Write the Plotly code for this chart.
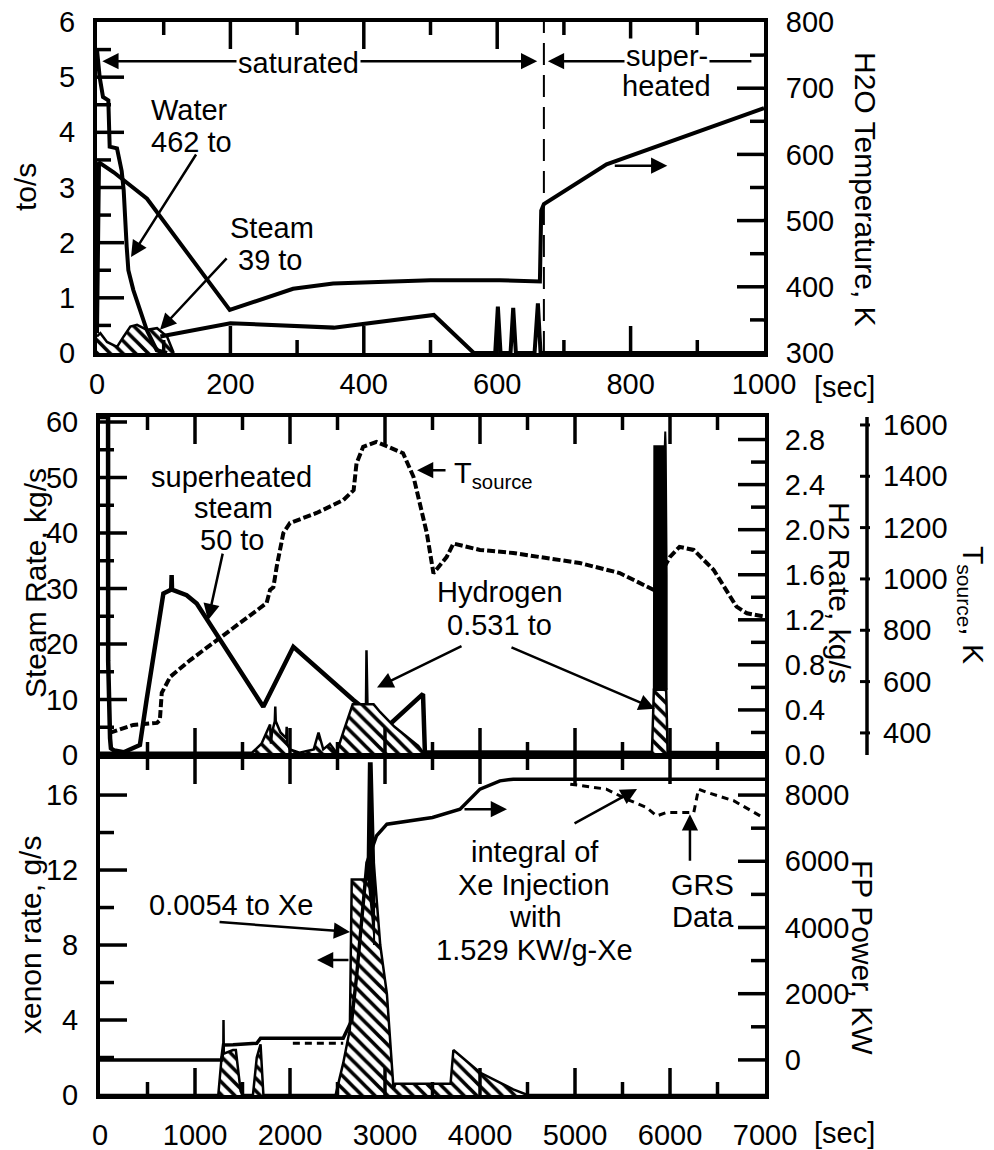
import plotly.graph_objects as go

W, H = 994, 1150
FONT = "Liberation Sans, Arial, Helvetica, sans-serif"

# ---------------- top panel (0-1000 s) ----------------
water_t = [0, 4, 9, 17, 19, 30, 37, 40, 44.5, 47, 54.5, 74.5, 89.5, 105]
water_flow = [5.5, 5.0, 4.64, 4.58, 3.74, 3.71, 3.3, 2.95, 1.93, 1.5, 1.14, 0.42, 0.05, 0.0]

steam_fill_t = [0, 5, 15, 30, 40, 50, 60, 75, 90, 105, 115]
steam_fill = [0.3, 0.36, 0.2, 0.11, 0.3, 0.48, 0.51, 0.42, 0.45, 0.3, 0.0]

steam_t = [95, 200, 355, 405, 495, 505, 565, 597, 601, 605, 620, 624, 628, 656, 661, 665, 1000]
steam_flow = [0.3, 0.54, 0.46, 0.54, 0.69, 0.69, 0.0, 0.0, 0.84, 0.0, 0.0, 0.82, 0.0, 0.0, 0.9, 0.0, 0.0]

h2o_temp_t = [0, 3, 25, 75, 199, 294, 354, 404, 500, 604, 664, 666, 670, 764, 1000]
h2o_temp = [330, 588, 573, 533, 365, 397, 405, 407, 410, 410, 408, 515, 525, 585, 670]

superheat_start = 670
top_x_ticks = [0, 200, 400, 600, 800, 1000]

# ---------------- middle panel (0-7000 s) ----------------
tsource_t = [100, 350, 600, 630, 650, 740, 950, 1230, 1470, 1690, 1754, 1790, 1825, 1860, 1930,
             2000, 2280, 2560, 2670, 2700, 2770, 2910, 3190, 3300, 3440, 3510, 3650, 3720, 4000,
             4350, 5050, 5470, 5830, 5870, 6000, 6100, 6250, 6460, 6700, 6810, 7000]
tsource = [400, 431, 439, 450, 556, 619, 684, 762, 828, 892, 906, 957, 968, 1048, 1179,
           1218, 1257, 1307, 1346, 1450, 1515, 1534, 1490, 1398, 1179, 1022, 1086, 1138, 1113,
           1101, 1062, 1023, 957, 1000, 1086, 1125, 1113, 1035, 892, 866, 853]
tsource_ticks = [400, 600, 800, 1000, 1200, 1400, 1600]

steam_rate_t = [0, 85, 86, 92, 100, 106, 115, 150, 250, 420, 490, 667, 737, 750, 754, 758,
                912, 1018, 1719, 2035, 2667, 2880, 2985, 3400, 3420, 7000]
steam_rate = [60.9, 60.9, 17, 8, 11, 3, 1.2, 0.8, 0.5, 1.8, 9.9, 29.1, 29.7, 30, 32.4, 29.8,
              28.8, 27.3, 8.7, 19.5, 9.9, 7.0, 4.5, 11.0, 0.5, 0.3]

h2_t = [0, 1600, 1700, 1750, 1790, 1800, 1810, 1840, 1845, 1850, 1900, 1960, 1965, 1970, 2000,
        2100, 2250, 2300, 2350, 2420, 2490, 2560, 2660, 2700, 2800, 2805, 2810, 2815, 2880, 2950,
        3100, 3250, 3350, 3420, 3440, 5810, 5830, 5960, 5975, 7000]
h2_rate = [0.02, 0.02, 0.1, 0.2, 0.27, 0.1, 0.2, 0.3, 0.43, 0.3, 0.2, 0.15, 0.25, 0.1, 0.05,
           0.02, 0.05, 0.2, 0.05, 0.1, 0.02, 0.2, 0.45, 0.45, 0.45, 0.93, 0.45, 0.45, 0.45, 0.38,
           0.25, 0.15, 0.08, 0.0, 0.02, 0.02, 0.58, 0.58, 0.02, 0.02]

h2_burst_t = [5830, 5835, 5945, 5950, 5955, 5965, 5965]
h2_burst = [0.58, 2.74, 2.74, 2.87, 2.74, 1.6, 0.58]

# ---------------- bottom panel (0-7000 s) ----------------
xe_t = [0, 1245, 1280, 1298, 1300, 1303, 1400, 1430, 1480, 1500, 1610, 1650, 1690, 1720, 2480,
        2560, 2630, 2650, 2810, 2880, 2950, 3020, 3090, 3110, 3200, 3690, 3720, 4000, 4350, 4500, 7000]
xe_rate = [0, 0, 2.0, 2.2, 4.0, 2.2, 2.4, 2.4, 0.2, 0, 0, 2.0, 2.7, 0, 0,
           1.7, 3.5, 11.5, 11.5, 12.5, 8.0, 5.4, 0.3, 0.6, 0.6, 0.6, 2.4, 1.2, 0.3, 0, 0]

xe_burst_t = [2815, 2830, 2860, 2885, 2885]
xe_burst = [11.5, 17.7, 17.7, 12.5, 8.0]

fp_t = [0, 1280, 1300, 1400, 1650, 1690, 2560, 2650, 2700, 2750, 2810, 2910, 3020, 3500, 3790,
        4000, 4210, 4350, 7000]
fp_power = [0, 0, 450, 455, 505, 657, 657, 1200, 2500, 4200, 5960, 6766, 7120, 7323, 7575,
            8180, 8430, 8480, 8480]

grs_t = [2030, 2560, None, 4950, 5330, 5540, 5750, 5860, 5960, 6250, 6300, 6390, 6670, 6980]
grs_power = [500, 500, None, 8330, 8180, 7880, 7630, 7370, 7470, 7470, 8180, 8080, 7830, 7320]

long_x_ticks = [0, 1000, 2000, 3000, 4000, 5000, 6000, 7000]

HATCH = dict(shape="\\", fgcolor="black", bgcolor="white", size=9, solidity=0.4)

fig = go.Figure()

# top
fig.add_trace(go.Scatter(x=steam_fill_t, y=steam_fill, xaxis="x", yaxis="y", mode="lines",
                         line=dict(color="black", width=2.5), fill="tozeroy", fillpattern=HATCH,
                         fillcolor="white"))
fig.add_trace(go.Scatter(x=water_t, y=water_flow, xaxis="x", yaxis="y", mode="lines",
                         line=dict(color="black", width=4)))
fig.add_trace(go.Scatter(x=steam_t, y=steam_flow, xaxis="x", yaxis="y", mode="lines",
                         line=dict(color="black", width=4)))
fig.add_trace(go.Scatter(x=[superheat_start, superheat_start], y=[0, 6], xaxis="x", yaxis="y",
                         mode="lines", line=dict(color="black", width=2, dash="22px,10px")))
fig.add_trace(go.Scatter(x=h2o_temp_t, y=h2o_temp, xaxis="x", yaxis="y2", mode="lines",
                         line=dict(color="black", width=4)))

# middle
fig.add_trace(go.Scatter(x=h2_t, y=h2_rate, xaxis="x2", yaxis="y4", mode="lines",
                         line=dict(color="black", width=2.5), fill="tozeroy", fillpattern=HATCH,
                         fillcolor="white"))
fig.add_trace(go.Scatter(x=h2_burst_t, y=h2_burst, xaxis="x2", yaxis="y4", mode="lines",
                         line=dict(color="black", width=2), fill="toself", fillcolor="black"))
fig.add_trace(go.Scatter(x=tsource_t, y=tsource, xaxis="x2", yaxis="y5", mode="lines",
                         line=dict(color="black", width=4, dash="8px,3px")))
fig.add_trace(go.Scatter(x=steam_rate_t, y=steam_rate, xaxis="x2", yaxis="y3", mode="lines",
                         line=dict(color="black", width=4.5)))

# bottom
fig.add_trace(go.Scatter(x=xe_t, y=xe_rate, xaxis="x3", yaxis="y6", mode="lines",
                         line=dict(color="black", width=2.5), fill="tozeroy", fillpattern=HATCH,
                         fillcolor="white"))
fig.add_trace(go.Scatter(x=xe_burst_t, y=xe_burst, xaxis="x3", yaxis="y6", mode="lines",
                         line=dict(color="black", width=2), fill="toself", fillcolor="black"))
fig.add_trace(go.Scatter(x=fp_t, y=fp_power, xaxis="x3", yaxis="y7", mode="lines",
                         line=dict(color="black", width=3.5)))
fig.add_trace(go.Scatter(x=grs_t, y=grs_power, xaxis="x3", yaxis="y7", mode="lines",
                         connectgaps=False, line=dict(color="black", width=3, dash="7px,5px")))

# panel frames in pixels: (left, right, top, bottom)
TOP_BOX = (97, 764, 22, 353)
MID_BOX = (100, 765, 417, 755)
BOT_BOX = (100, 765, 757, 1095)


def dom_x(box):
    return [box[0] / W, box[1] / W]


def dom_y(box):
    return [1 - box[3] / H, 1 - box[2] / H]


TF = dict(family=FONT, size=29, color="black")
common = dict(showline=True, linecolor="black", linewidth=4, ticks="", showgrid=False,
              zeroline=False, tickfont=TF, automargin=False)

TS_RANGE = [314, 1631]

fig.update_layout(
    template="none",
    width=W, height=H, margin=dict(l=0, r=0, t=0, b=0, pad=0),
    paper_bgcolor="white", plot_bgcolor="rgba(0,0,0,0)", showlegend=False,
    font=dict(family=FONT, color="black"),
    xaxis=dict(domain=dom_x(TOP_BOX), anchor="y", range=[0, 1000], tickvals=top_x_ticks,
               mirror=True, ticklabelstandoff=2, **common),
    yaxis=dict(domain=dom_y(TOP_BOX), anchor="x", range=[0, 6], dtick=1, ticklabelstandoff=12,
               **common),
    yaxis2=dict(overlaying="y", anchor="x", side="right", range=[300, 800], dtick=100,
                ticklabelstandoff=12, **common),
    xaxis2=dict(domain=dom_x(MID_BOX), anchor="y3", range=[0, 7000], tickvals=long_x_ticks,
                showticklabels=False, mirror=True, **common),
    yaxis3=dict(domain=dom_y(MID_BOX), anchor="x2", range=[0, 60.9], dtick=10,
                ticklabelstandoff=12, **common),
    yaxis4=dict(overlaying="y3", anchor="x2", side="right", range=[0, 3.0], tick0=0, dtick=0.4,
                tickformat=".1f", ticklabelstandoff=10, **common),
    yaxis5=dict(overlaying="y3", anchor="x2", side="right", range=TS_RANGE, visible=False,
                showgrid=False, zeroline=False),
    xaxis3=dict(domain=dom_x(BOT_BOX), anchor="y6", range=[0, 7000], tickvals=long_x_ticks,
                mirror=True, ticklabelstandoff=11, **common),
    yaxis6=dict(domain=dom_y(BOT_BOX), anchor="x3", range=[0, 18.03], dtick=4,
                ticklabelstandoff=12, **common),
    yaxis7=dict(overlaying="y6", anchor="x3", side="right", range=[-1060, 9150],
                tick0=0, dtick=2000, ticklabelstandoff=10, **common),
)

TICK = dict(color="black", width=3.5)
MAJ, MIN = 27, 14
shapes = []


def steps(start, step, count):
    return [start + i * step for i in range(count)]


def x_ticks(xref, box, vals, length):
    # inward tick marks on the bottom and top frame, positioned by the x axis scale
    for v in vals:
        shapes.append(dict(type="line", xref=xref, yref="paper", x0=v, x1=v,
                           y0=1 - box[3] / H, y1=1 - (box[3] - length) / H, line=TICK))
        shapes.append(dict(type="line", xref=xref, yref="paper", x0=v, x1=v,
                           y0=1 - box[2] / H, y1=1 - (box[2] + length) / H, line=TICK))


def y_ticks(yref, box, vals, length, right=False):
    edge = box[1] if right else box[0]
    inner = edge - length if right else edge + length
    for v in vals:
        shapes.append(dict(type="line", xref="paper", yref=yref, y0=v, y1=v,
                           x0=edge / W, x1=inner / W, line=TICK))


# top panel ticks
x_ticks("x", TOP_BOX, steps(200, 200, 4), MAJ)
x_ticks("x", TOP_BOX, steps(100, 200, 5), 13)
y_ticks("y", TOP_BOX, steps(1, 1, 5), MAJ)
y_ticks("y", TOP_BOX, steps(0.5, 1, 6), MIN)
y_ticks("y2", TOP_BOX, steps(400, 100, 4), MAJ, right=True)
y_ticks("y2", TOP_BOX, steps(350, 100, 5), MIN, right=True)
# middle panel ticks
x_ticks("x2", MID_BOX, steps(1000, 1000, 6), MAJ)
x_ticks("x2", MID_BOX, steps(500, 1000, 7), 13)
y_ticks("y3", MID_BOX, steps(10, 10, 6), MAJ)
y_ticks("y3", MID_BOX, steps(5, 10, 6), MIN)
y_ticks("y4", MID_BOX, steps(0.4, 0.4, 7), MAJ, right=True)
y_ticks("y4", MID_BOX, steps(0.2, 0.4, 7), MIN, right=True)
# bottom panel ticks
x_ticks("x3", BOT_BOX, steps(1000, 1000, 6), MAJ)
x_ticks("x3", BOT_BOX, steps(500, 1000, 7), 13)
y_ticks("y6", BOT_BOX, steps(4, 4, 4), MAJ)
y_ticks("y6", BOT_BOX, steps(2, 4, 4), MIN)
y_ticks("y7", BOT_BOX, steps(0, 2000, 5), MAJ, right=True)
y_ticks("y7", BOT_BOX, steps(1000, 2000, 4), MIN, right=True)

# separate T_source scale drawn beside the H2 axis (uses the y5 scale)
TS_X = 867 / W
shapes.append(dict(type="line", xref="paper", yref="y5", x0=TS_X, x1=TS_X, y0=TS_RANGE[0],
                   y1=TS_RANGE[1], line=dict(color="black", width=3.5)))
for v in tsource_ticks:
    shapes.append(dict(type="line", xref="paper", yref="y5", x0=TS_X - 7 / W, x1=TS_X + 3 / W,
                       y0=v, y1=v, line=dict(color="black", width=3)))
fig.update_layout(shapes=shapes)

ann = []
for v in tsource_ticks:
    ann.append(dict(text=str(v), x=(TS_X * W + 14) / W, y=v, xref="paper", yref="y5",
                    showarrow=False, xanchor="left", yanchor="middle", font=TF))


def label(text, xp, yp, size=29, angle=0, bg=None, xanchor="center"):
    d = dict(text=text, x=xp / W, y=1 - yp / H, xref="paper", yref="paper", showarrow=False,
             xanchor=xanchor, yanchor="middle", textangle=angle,
             font=dict(family=FONT, size=size, color="black"))
    if bg:
        d["bgcolor"] = bg
        d["borderpad"] = 1
    ann.append(d)


def arrow(x, y, xref, yref, ax, ay):
    ann.append(dict(text="", x=x, y=y, xref=xref, yref=yref, ax=ax, ay=ay, showarrow=True,
                    arrowhead=2, arrowsize=1.3, arrowwidth=2.5, arrowcolor="black", standoff=0))


# top panel arrows
arrow(8, 5.29, "x", "y", 190, 0)
arrow(660, 5.29, "x", "y", -239, 0)
arrow(676, 5.29, "x", "y", 205, 0)
arrow(51, 1.74, "x", "y", 66, -104)
arrow(94.5, 0.42, "x", "y", 68, -73)
arrow(855, 583, "x", "y2", -54, 0)
# middle panel arrows
arrow(1137, 24.3, "x2", "y3", 15, -68)
arrow(3337, 1424, "x2", "y5", 30, 0)
arrow(2916, 0.60, "x2", "y4", 86, -42)
arrow(5842, 0.41, "x2", "y4", -145, -62)
# bottom panel arrows
arrow(2632, 8.7, "x3", "y6", -132, -10)
arrow(2284, 7.2, "x3", "y6", 33, 0)
arrow(5653, 8180, "x3", "y7", -64, 35)
arrow(4284, 7575, "x3", "y7", -44, 0)
arrow(6210, 7424, "x3", "y7", 0, 48)

# texts
label("saturated", 298, 63, bg="white")
label("super-", 667, 56, bg="white")
label("heated", 666, 86)
label("Water", 189, 110)
label("462 to", 191, 142)
label("Steam", 272, 228)
label("39 to", 270, 260)
label("[sec]", 844, 387)

label("superheated", 231, 477)
label("steam", 233, 508)
label("50 to", 232, 540)
label("T<sub>source</sub>", 452, 475, xanchor="left")
label("Hydrogen", 500, 592)
label("0.531 to", 500, 625)

label("0.0054 to Xe", 231, 905)
label("integral of", 535, 852)
label("Xe Injection", 534, 885)
label("with", 535, 917)
label("1.529 KW/g-Xe", 534, 950)
label("GRS", 702, 885)
label("Data", 703, 917)
label("[sec]", 844, 1133)

# axis titles
label("to/s", 25, 187, size=30, angle=-90)
label("H2O Temperature, K", 866, 189, size=30, angle=90)
label("Steam Rate, kg/s", 35, 583, size=30, angle=-90)
label("H2 Rate, kg/s", 840, 593, size=30, angle=90)
label("T<sub>source</sub>, K", 972, 605, size=30, angle=90)
label("xenon rate, g/s", 30, 935, size=30, angle=-90)
label("FP Power, KW", 862, 957, size=30, angle=90)

fig.update_layout(annotations=ann)

fig.write_html("out.html")
